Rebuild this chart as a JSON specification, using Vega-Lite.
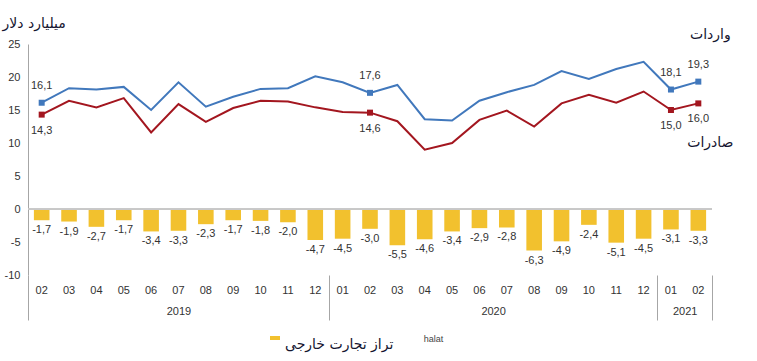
{
  "$schema": "https://vega.github.io/schema/vega-lite/v6.json",
  "width": 684,
  "height": 231,
  "autosize": {"type": "none"},
  "padding": {"left": 28, "top": 44, "right": 45, "bottom": 86},
  "background": "white",
  "config": {
    "view": {"stroke": null},
    "font": "Liberation Sans",
    "locale": {"number": {"decimal": ",", "thousands": ".", "grouping": [3], "currency": ["", ""], "minus": "-"}},
    "axis": {"labelFont": "Liberation Sans", "labelFontSize": 11, "labelColor": "#333333", "grid": false},
    "axisY": {"tickCount": 8, "labelOverlap": false, "domainColor": "#A6A6A6", "ticks": false, "labelPadding": 8}
  },
  "layer": [
    {
      "data": {"values": [
        {"m": "2019-02", "imp": 16.1, "exp": 14.3, "bal": -1.7, "hl": true},
        {"m": "2019-03", "imp": 18.3, "exp": 16.4, "bal": -1.9, "hl": false},
        {"m": "2019-04", "imp": 18.1, "exp": 15.4, "bal": -2.7, "hl": false},
        {"m": "2019-05", "imp": 18.5, "exp": 16.8, "bal": -1.7, "hl": false},
        {"m": "2019-06", "imp": 15.0, "exp": 11.6, "bal": -3.4, "hl": false},
        {"m": "2019-07", "imp": 19.2, "exp": 15.9, "bal": -3.3, "hl": false},
        {"m": "2019-08", "imp": 15.5, "exp": 13.2, "bal": -2.3, "hl": false},
        {"m": "2019-09", "imp": 17.0, "exp": 15.3, "bal": -1.7, "hl": false},
        {"m": "2019-10", "imp": 18.2, "exp": 16.4, "bal": -1.8, "hl": false},
        {"m": "2019-11", "imp": 18.3, "exp": 16.3, "bal": -2.0, "hl": false},
        {"m": "2019-12", "imp": 20.1, "exp": 15.4, "bal": -4.7, "hl": false},
        {"m": "2020-01", "imp": 19.2, "exp": 14.7, "bal": -4.5, "hl": false},
        {"m": "2020-02", "imp": 17.6, "exp": 14.6, "bal": -3.0, "hl": true},
        {"m": "2020-03", "imp": 18.8, "exp": 13.3, "bal": -5.5, "hl": false},
        {"m": "2020-04", "imp": 13.6, "exp": 9.0, "bal": -4.6, "hl": false},
        {"m": "2020-05", "imp": 13.4, "exp": 10.0, "bal": -3.4, "hl": false},
        {"m": "2020-06", "imp": 16.4, "exp": 13.5, "bal": -2.9, "hl": false},
        {"m": "2020-07", "imp": 17.7, "exp": 14.9, "bal": -2.8, "hl": false},
        {"m": "2020-08", "imp": 18.8, "exp": 12.5, "bal": -6.3, "hl": false},
        {"m": "2020-09", "imp": 20.9, "exp": 16.0, "bal": -4.9, "hl": false},
        {"m": "2020-10", "imp": 19.7, "exp": 17.3, "bal": -2.4, "hl": false},
        {"m": "2020-11", "imp": 21.2, "exp": 16.1, "bal": -5.1, "hl": false},
        {"m": "2020-12", "imp": 22.3, "exp": 17.8, "bal": -4.5, "hl": false},
        {"m": "2021-01", "imp": 18.1, "exp": 15.0, "bal": -3.1, "hl": true},
        {"m": "2021-02", "imp": 19.3, "exp": 16.0, "bal": -3.3, "hl": true}
      ]},
      "layer": [
        {
          "mark": {"type": "bar"},
          "encoding": {
            "x": {"field": "m", "type": "ordinal", "scale": {"paddingInner": 0.43, "paddingOuter": 0.215},
                  "axis": {"orient": "bottom", "title": null, "ticks": false, "domain": false, "labelPadding": 9, "labelAngle": 0, "labelExpr": "substring(datum.value, 5, 7)"}},
            "y": {"field": "bal", "type": "quantitative", "title": "میلیارد دلار",
                  "scale": {"domain": [-10, 25], "nice": false, "zero": false},
                  "axis": {"values": [-10, -5, 0, 5, 10, 15, 20, 25], "labelOverlap": false, "domainColor": "#A6A6A6", "ticks": false, "labelPadding": 8,
                           "titleAngle": 0, "titleAlign": "left", "titleBaseline": "middle", "titleX": -26, "titleY": -21,
                           "titleFont": "DejaVu Sans", "titleFontSize": 14, "titleFontWeight": "normal", "titleColor": "#151530"}},
            "color": {"datum": "تراز تجارت خارجی", "scale": {"range": ["#F2C12E"]},
                      "legend": {"orient": "none", "legendX": 240, "legendY": 287, "title": null,
                                 "symbolType": "M-1,-0.4L1,-0.4L1,0.4L-1,0.4Z", "symbolSize": 100, "symbolStrokeWidth": 0,
                                 "labelFont": "DejaVu Sans", "labelFontSize": 14, "labelColor": "#151530", "labelOffset": 3, "labelBaseline": "top"}}
          }
        },
        {
          "mark": {"type": "rule", "color": "#C8C8C8", "strokeWidth": 1},
          "encoding": {"y": {"datum": 0, "type": "quantitative", "title": "میلیارد دلار"}}
        },
        {
          "mark": {"type": "text", "baseline": "top", "dy": 4, "fontSize": 11, "color": "#333333"},
          "encoding": {
            "x": {"field": "m", "type": "ordinal"},
            "y": {"field": "bal", "type": "quantitative", "title": "میلیارد دلار"},
            "text": {"field": "bal", "type": "quantitative", "format": ".1f"}
          }
        },
        {
          "mark": {"type": "line", "color": "#4178BC", "strokeWidth": 2},
          "encoding": {
            "x": {"field": "m", "type": "ordinal"},
            "y": {"field": "imp", "type": "quantitative", "title": "میلیارد دلار"}
          }
        },
        {
          "mark": {"type": "line", "color": "#A3161F", "strokeWidth": 2},
          "encoding": {
            "x": {"field": "m", "type": "ordinal"},
            "y": {"field": "exp", "type": "quantitative", "title": "میلیارد دلار"}
          }
        },
        {
          "transform": [{"filter": "datum.hl"}],
          "layer": [
            {
              "mark": {"type": "point", "shape": "square", "filled": true, "size": 36, "color": "#4178BC", "opacity": 1},
              "encoding": {"x": {"field": "m", "type": "ordinal"}, "y": {"field": "imp", "type": "quantitative", "title": "میلیارد دلار"}}
            },
            {
              "mark": {"type": "point", "shape": "square", "filled": true, "size": 36, "color": "#A3161F", "opacity": 1},
              "encoding": {"x": {"field": "m", "type": "ordinal"}, "y": {"field": "exp", "type": "quantitative", "title": "میلیارد دلار"}}
            },
            {
              "mark": {"type": "text", "baseline": "middle", "dy": -17, "fontSize": 11, "color": "#333333"},
              "encoding": {"x": {"field": "m", "type": "ordinal"}, "y": {"field": "imp", "type": "quantitative", "title": "میلیارد دلار"},
                           "text": {"field": "imp", "type": "quantitative", "format": ".1f"}}
            },
            {
              "mark": {"type": "text", "baseline": "middle", "dy": 16, "fontSize": 11, "color": "#333333"},
              "encoding": {"x": {"field": "m", "type": "ordinal"}, "y": {"field": "exp", "type": "quantitative", "title": "میلیارد دلار"},
                           "text": {"field": "exp", "type": "quantitative", "format": ".1f"}}
            }
          ]
        },
        {
          "data": {"values": [
            {"name": "واردات", "m": "2021-02", "v": 26.4},
            {"name": "صادرات", "m": "2021-02", "v": 10.0}
          ]},
          "mark": {"type": "text", "font": "DejaVu Sans", "fontSize": 14, "color": "#151530", "baseline": "middle", "align": "center", "dx": 12},
          "encoding": {
            "x": {"field": "m", "type": "ordinal"},
            "y": {"field": "v", "type": "quantitative", "title": "میلیارد دلار"},
            "text": {"field": "name", "type": "nominal"}
          }
        }
      ]
    },
    {
      "data": {"values": [
        {"year": "2019", "first": 0, "last": 11},
        {"year": "2020", "first": 11, "last": 23},
        {"year": "2021", "first": 23, "last": 25}
      ]},
      "mark": {"type": "rect", "opacity": 0},
      "encoding": {
        "x": {"field": "first", "type": "quantitative", "scale": {"domain": [0, 25], "nice": false, "zero": true},
              "axis": {"orient": "bottom", "values": [0, 5.5, 11, 17, 23, 24, 25], "domain": false, "tickSize": 45,
                       "tickColor": "#A6A6A6", "labelOverlap": false,
                       "tickOpacity": {"condition": {"test": "datum.value == 0 || datum.value == 11 || datum.value == 23 || datum.value == 25", "value": 1}, "value": 0},
                       "labelPadding": -15,
                       "labelExpr": "datum.value == 5.5 ? '2019' : datum.value == 17 ? '2020' : datum.value == 24 ? '2021' : ''",
                       "title": "halat", "titleFontSize": 9, "titleFontWeight": "normal", "titleColor": "#444444",
                       "titleX": 405, "titleY": 63, "titleBaseline": "middle", "titleAlign": "center"}},
        "x2": {"field": "last"}
      }
    }
  ],
  "resolve": {"scale": {"x": "independent"}}
}
